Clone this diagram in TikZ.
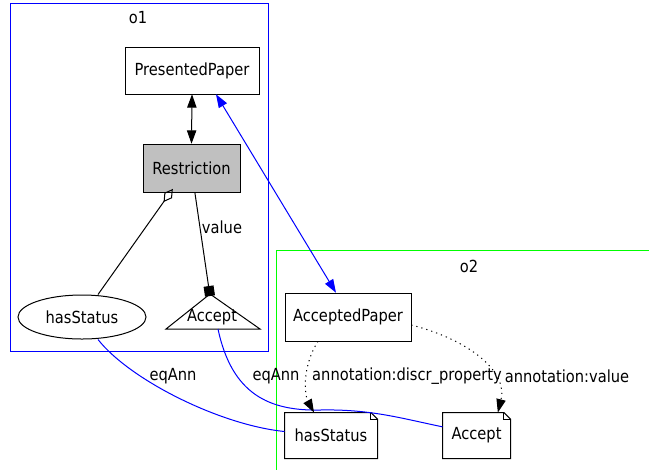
\documentclass[tikz,border=0pt]{standalone}
\usepackage{fontspec}
\setmainfont{DejaVu Sans}[FakeStretch=0.88]
\usetikzlibrary{arrows.meta,shapes.geometric}
\definecolor{restrgray}{RGB}{192,192,192}
\tikzset{
    class-box/.style = {draw, thin, rectangle, fill=white, inner sep=2pt},
    restr-box/.style = {class-box, fill=restrgray},
    note-box/.style = {rectangle, inner sep=2pt},
    cluster-label/.style = {inner sep=1pt},
    plain-label/.style = {inner sep=1pt},
    big-tip/.style = {-{Triangle[length=10pt,width=7pt]}},
    both-tip/.style = {{Triangle[length=10pt,width=7pt]}-{Triangle[length=10pt,width=7pt]}},
    dotted-line/.style = {dash pattern=on 0.9pt off 3pt},
}

\begin{document}
\begin{tikzpicture}[x=0.75pt, y=-0.75pt, font=\fontsize{12.5}{14}\selectfont, line width=0.75pt]
\useasboundingbox (0,0) rectangle (649,469);

% clusters
\draw[blue] (10,3) rectangle (268,351);
\node[cluster-label] (o1) at (138,18) {o1};
\draw[green] (276,250) rectangle (660,480);
\node[cluster-label] (o2) at (469,266) {o2};

% o1 nodes
\node[class-box, minimum width=100.5pt, minimum height=35.25pt] (pp) at (192,70.5) {PresentedPaper};
\node[restr-box, minimum width=72.75pt, minimum height=36pt] (res) at (191.5,168) {Restriction};
\node[draw, ellipse, minimum width=96pt, minimum height=33pt, inner sep=0pt] (hs1) at (82,317) {hasStatus};
\coordinate (acc1-top) at (210,296);
\coordinate (acc1-base) at (218,329);
\draw (210,294) -- (260,329) -- (166,329) -- cycle;
\node[plain-label] (acc1) at (212,317) {Accept};

% o2 nodes
\node[class-box, minimum width=94.5pt, minimum height=36pt] (ap) at (348,317) {AcceptedPaper};
\node[note-box, minimum width=69pt, minimum height=33.75pt] (hs2) at (331,435.5) {hasStatus};
\node[note-box, minimum width=50.25pt, minimum height=33.75pt] (acc2) at (476.5,435.5) {Accept};
\foreach \n in {hs2,acc2} {
    \draw (\n.south west) -- (\n.north west) -- ([xshift=-5pt]\n.north east)
        -- ([yshift=-5pt]\n.north east) -- (\n.south east) -- cycle;
    \draw ([xshift=-5pt]\n.north east) -- ([xshift=-5pt,yshift=-5pt]\n.north east)
        -- ([yshift=-5pt]\n.north east);
}

% edges in o1
\draw[both-tip] (pp.south) -- (res.north);
\draw[{Diamond[open,length=12pt,width=7pt]}-] ([xshift=-14pt,yshift=2.5pt]res.south) -- ([xshift=12pt]hs1.north);
\draw[-{Square[length=7.5pt,width=7.5pt]}] ([xshift=2.5pt]res.south) -- (acc1-top);
\node[plain-label] (value) at (222,227) {value};

% mapping between o1 and o2
\draw[blue, both-tip] ([xshift=18pt]pp.south) -- ([xshift=-9pt]ap.north);
\draw[blue] ([xshift=12pt]hs1.south) .. controls (130,380) and (220,425) .. ([yshift=3pt]hs2.west);
\node[plain-label] (eq1) at (173,376) {eqAnn};
\draw[blue] (acc1-base) .. controls (232,395) and (270,411) .. (320,410)
    .. controls (370,409) and (400,418) .. ([yshift=6.5pt]acc2.west);
\node[plain-label] (eq2) at (276,376) {eqAnn};

% annotations in o2
\draw[big-tip, dotted-line] ([xshift=-22.5pt]ap.south) .. controls (300,370) and (306,398) .. ([xshift=-12.75pt]hs2.north);
\node[plain-label] (ann1) at (407,376) {annotation:discr\_property};
\draw[big-tip, dotted-line] ([yshift=-6pt]ap.east) .. controls (470,340) and (508,372) .. ([xshift=16pt]acc2.north);
\node[plain-label] (ann2) at (567,376) {annotation:value};
\end{tikzpicture}
\end{document}
